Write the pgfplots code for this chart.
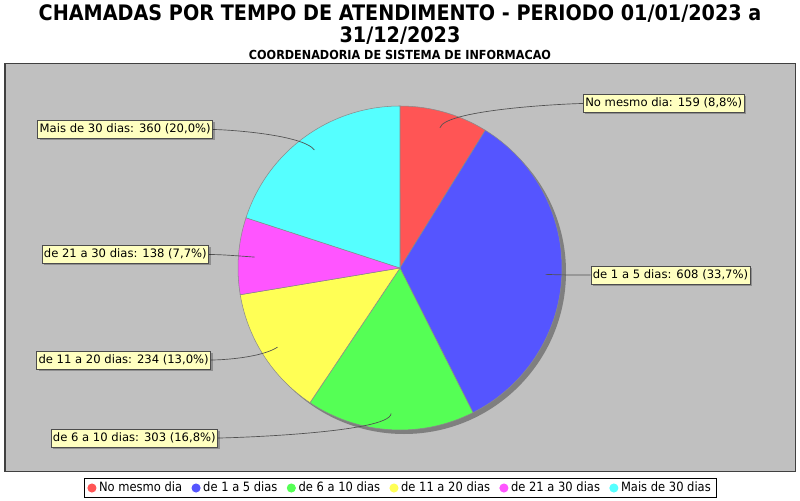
\documentclass[border=0pt]{standalone}
\usepackage{pgfplots}
\pgfplotsset{compat=1.18}
\usepackage{pgfplotstable}
\usetikzlibrary{shadows}
\usepackage{fontspec}
\setmainfont{DejaVu Sans}
\newfontfamily\condfont{DejaVu Sans Condensed}
\definecolor{pie0}{HTML}{FF5555}
\definecolor{pie1}{HTML}{5555FF}
\definecolor{pie2}{HTML}{55FF55}
\definecolor{pie3}{HTML}{FFFF55}
\definecolor{pie4}{HTML}{FF55FF}
\definecolor{pie5}{HTML}{55FFFF}
\definecolor{bggray}{HTML}{C0C0C0}
\definecolor{shadowgray}{HTML}{7F7F7F}
\definecolor{labelfill}{HTML}{FFFFC0}
\definecolor{piedge}{HTML}{8A8A8A}
\definecolor{linkcol}{HTML}{505050}

\pgfplotstableread[col sep=comma]{
name,value,lx,ly,an,dir
No mesmo dia,159,583,396.5,west,-1
de 1 a 5 dias,608,590.5,225,west,-1
de 6 a 10 dias,303,218,62,east,1
de 11 a 20 dias,234,211,140,east,1
de 21 a 30 dias,138,209,245.5,east,1
Mais de 30 dias,360,213,370.5,east,1
}\piedata

\newcommand\piecx{400}
\newcommand\piecy{232}
\newcommand\pier{162}

\pgfplotsset{pielegend/.style={legend image code/.code={\fill (0pt,0pt) circle[radius=3pt];}}}
\tikzset{labelbox/.style={draw=black!70, line width=0.4pt, fill=labelfill, inner xsep=1.5pt,
    inner ysep=0pt, minimum height=13.5pt, text height=6.8pt, text depth=1.9pt,
    font=\fontsize{8.7}{10}\selectfont,
    drop shadow={shadow xshift=1.5pt, shadow yshift=-1.5pt, fill=black, opacity=0.25}}}

\begin{document}
\begin{tikzpicture}
\xdef\pietotal{0}%
\foreach \i in {0,...,5}{%
  \pgfplotstablegetelem{\i}{value}\of{\piedata}%
  \pgfmathsetmacro\pietmp{\pietotal+\pgfplotsretval}%
  \xdef\pietotal{\pietmp}%
}%
\xdef\piecum{90}%
\foreach \i in {0,...,5}{%
  \pgfplotstablegetelem{\i}{value}\of{\piedata}\let\pieV\pgfplotsretval
  \pgfmathsetmacro\pieFrac{\pieV/\pietotal}%
  \pgfmathsetmacro\pieE{\piecum-360*\pieFrac}%
  \pgfmathsetmacro\pieM{(\piecum+\pieE)/2}%
  \pgfmathsetmacro\pieP{100*\pieFrac}%
  \pgfmathsetmacro\pieSX{\piecx+\pier*cos(\piecum)}%
  \pgfmathsetmacro\pieSY{\piecy+\pier*sin(\piecum)}%
  \pgfmathsetmacro\pieKX{\piecx+0.9*\pier*cos(\pieM)}%
  \pgfmathsetmacro\pieKY{\piecy+0.9*\pier*sin(\pieM)}%
  \pgfmathsetmacro\pieEX{\piecx+1.02*\pier*cos(\pieM)}%
  \pgfmathsetmacro\pieEY{\piecy+1.02*\pier*sin(\pieM)}%
  \pgfplotstablegetelem{\i}{lx}\of{\piedata}\let\pieLX\pgfplotsretval
  \pgfplotstablegetelem{\i}{ly}\of{\piedata}\let\pieLY\pgfplotsretval
  \pgfplotstablegetelem{\i}{dir}\of{\piedata}\let\pieD\pgfplotsretval
  \pgfmathsetmacro\pieCX{\pieLX+12*\pieD}%
  \pgfplotstablegetelem{\i}{an}\of{\piedata}\let\pieAN\pgfplotsretval
  \pgfplotstablegetelem{\i}{name}\of{\piedata}\let\pieN\pgfplotsretval
  \pgfkeys{/pgf/number format/.cd,fixed,fixed zerofill,precision=1,use comma,assume math mode=true}%
  \pgfmathprintnumberto{\pieP}{\pieT}%
  \expandafter\xdef\csname sa\i\endcsname{\piecum}%
  \expandafter\xdef\csname ea\i\endcsname{\pieE}%
  \expandafter\xdef\csname sx\i\endcsname{\pieSX}%
  \expandafter\xdef\csname sy\i\endcsname{\pieSY}%
  \expandafter\xdef\csname kx\i\endcsname{\pieKX}%
  \expandafter\xdef\csname ky\i\endcsname{\pieKY}%
  \expandafter\xdef\csname ex\i\endcsname{\pieEX}%
  \expandafter\xdef\csname ey\i\endcsname{\pieEY}%
  \expandafter\xdef\csname lx\i\endcsname{\pieLX}%
  \expandafter\xdef\csname ly\i\endcsname{\pieLY}%
  \expandafter\xdef\csname cx\i\endcsname{\pieCX}%
  \expandafter\xdef\csname an\i\endcsname{\pieAN}%
  \expandafter\xdef\csname name\i\endcsname{\pieN}%
  \expandafter\xdef\csname val\i\endcsname{\pieV}%
  \expandafter\xdef\csname pct\i\endcsname{\pieT}%
  \xdef\piecum{\pieE}%
}%
\begin{axis}[
  scale only axis, width=592.5pt, height=305.25pt,
  xmin=5, xmax=795, ymin=29, ymax=436,
  xtick=\empty, ytick=\empty,
  axis line style={draw=black!75, line width=0.75pt},
  axis background/.style={fill=bggray},
  clip=false,
  legend style={at={(0.5006,-0.0418)}, anchor=center, draw=black, line width=0.75pt,
    fill=white, legend columns=6, inner xsep=2pt, inner ysep=1pt,
    font=\condfont\fontsize{9.6}{11}\selectfont,
    /tikz/every even column/.append style={column sep=5pt}},
  legend cell align=left,
]
\path (axis cs:0,0) rectangle (axis cs:800,500);
\node[font=\condfont\bfseries\fontsize{16}{18}\selectfont, anchor=base] at (axis cs:400,479) {CHAMADAS POR TEMPO DE ATENDIMENTO - PERIODO 01/01/2023 a};
\node[font=\condfont\bfseries\fontsize{16}{18}\selectfont, anchor=base] at (axis cs:400,457) {31/12/2023};
\node[font=\condfont\bfseries\fontsize{9.35}{10}\selectfont, anchor=base] at (axis cs:400,440) {COORDENADORIA DE SISTEMA DE INFORMACAO};
\fill[shadowgray] (axis cs:404,228) circle[radius=121.5pt];
\pgfplotsinvokeforeach{0,...,5}{%
  \filldraw[fill=pie#1, draw=piedge, line width=0.4pt] (axis cs:\piecx,\piecy) -- (axis cs:\csname sx#1\endcsname,\csname sy#1\endcsname) arc[start angle=\csname sa#1\endcsname, end angle=\csname ea#1\endcsname, radius=121.5pt] -- cycle;
}
\pgfplotsinvokeforeach{0,...,5}{%
  \draw[linkcol, line width=0.5pt] (axis cs:\csname lx#1\endcsname,\csname ly#1\endcsname) .. controls (axis cs:\csname cx#1\endcsname,\csname ly#1\endcsname) and (axis cs:\csname ex#1\endcsname,\csname ey#1\endcsname) .. (axis cs:\csname kx#1\endcsname,\csname ky#1\endcsname);
  \node[labelbox, anchor=\csname an#1\endcsname] at (axis cs:\csname lx#1\endcsname,\csname ly#1\endcsname) {\csname name#1\endcsname: \csname val#1\endcsname\ (\csname pct#1\endcsname\%)};
  \addlegendimage{pielegend, color=pie#1}
  \addlegendentry{\csname name#1\endcsname}
}
\end{axis}
\end{tikzpicture}
\end{document}
